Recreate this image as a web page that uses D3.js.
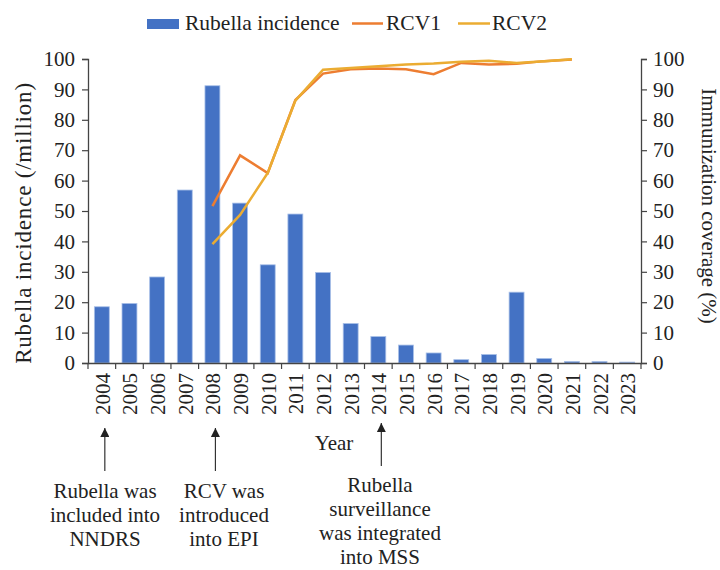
<!DOCTYPE html>
<html>
<head>
<meta charset="utf-8">
<script src="https://cdn.jsdelivr.net/npm/d3@7"></script>
<style>
  body { margin: 0; background: #fff; }
  svg text { font-family: "Liberation Serif", "Times New Roman", serif; fill: #222; }
</style>
</head>
<body>
<div id="chart"></div>
<script>
// Data
var years = ["2004", "2005", "2006", "2007", "2008", "2009", "2010", "2011", "2012", "2013",
             "2014", "2015", "2016", "2017", "2018", "2019", "2020", "2021", "2022", "2023"];
var incidence = [18.5, 19.6, 28.3, 56.9, 91.2, 52.6, 32.3, 49.0, 29.8, 13.0,
                 8.7, 5.9, 3.3, 1.1, 2.8, 23.3, 1.5, 0.5, 0.5, 0.3];
var rcv1Years = ["2008", "2009", "2010", "2011", "2012", "2013", "2014", "2015", "2016", "2017", "2018", "2019", "2020", "2021"];
var rcv1 = [51.6, 68.3, 62.5, 86.5, 95.2, 96.6, 96.9, 96.6, 95.0, 98.7, 98.2, 98.4, 99.3, 99.8];
var rcv2 = [39.1, 48.7, 62.5, 86.3, 96.5, 97.0, 97.6, 98.2, 98.5, 99.1, 99.4, 98.7, 99.3, 99.9];
var leftTicks = [0, 10, 20, 30, 40, 50, 60, 70, 80, 90, 100];
var rightTicks = [0, 10, 20, 30, 40, 50, 60, 70, 80, 90, 100];
var notes = [
    {year: "2004", lines: ["Rubella was", "included into", "NNDRS"]},
    {year: "2008", lines: ["RCV was", "introduced", "into EPI"]},
    {year: "2014", lines: ["Rubella", "surveillance", "was integrated", "into MSS"]}
];

var width = 720, height = 570;
var margin = {top: 59, left: 88, right: 79, bottom: 207};
var axisColor = "#444";
var fs = "21px";

var svg = d3.select("#chart").append("svg")
    .attr("width", width)
    .attr("height", height);

var x = d3.scaleBand()
    .domain(years)
    .range([margin.left, width - margin.right])
    .paddingInner(0.46)
    .paddingOuter(0.23);

var xOuter = d3.scaleBand()
    .domain(years)
    .range([margin.left, width - margin.right]);

var yLeft = d3.scaleLinear().domain([0, 100]).range([height - margin.bottom, margin.top]);
var yRight = d3.scaleLinear().domain([0, 100]).range([height - margin.bottom, margin.top]);

// bars
svg.append("g").selectAll("rect")
    .data(incidence)
    .join("rect")
    .attr("x", function(d, i) { return x(years[i]); })
    .attr("y", function(d) { return yLeft(d); })
    .attr("width", x.bandwidth())
    .attr("height", function(d) { return yLeft(0) - yLeft(d); })
    .attr("fill", "#4472C4")
    .attr("stroke", "#A9C0E8")
    .attr("stroke-width", 0.8);

// lines
var cx = function(yr) { return xOuter(yr) + xOuter.bandwidth() / 2; };
var line = d3.line()
    .x(function(d, i) { return cx(rcv1Years[i]); })
    .y(function(d) { return yRight(d); });

svg.append("path")
    .datum(rcv1)
    .attr("d", line)
    .attr("fill", "none")
    .attr("stroke", "#ED7D31")
    .attr("stroke-width", 2.5);

svg.append("path")
    .datum(rcv2)
    .attr("d", line)
    .attr("fill", "none")
    .attr("stroke", "#EBAC32")
    .attr("stroke-width", 2.5);

// axes
var gx = svg.append("g")
    .attr("transform", "translate(0," + yLeft(0) + ")")
    .call(d3.axisBottom(xOuter).tickSize(0).tickFormat(""));
gx.selectAll(".domain").attr("stroke", axisColor).attr("stroke-width", 1.3);

// x ticks at band edges
svg.append("g").selectAll("line")
    .data(years.concat(["end"]))
    .join("line")
    .attr("x1", function(d, i) { return margin.left + i * xOuter.step(); })
    .attr("x2", function(d, i) { return margin.left + i * xOuter.step(); })
    .attr("y1", yLeft(0))
    .attr("y2", yLeft(0) + 6)
    .attr("stroke", axisColor)
    .attr("stroke-width", 1.2);

svg.append("g").selectAll("text")
    .data(years)
    .join("text")
    .attr("transform", function(d) { return "translate(" + (cx(d) + 8) + "," + (yLeft(0) + 10) + ") rotate(-90)"; })
    .attr("text-anchor", "end")
    .style("font-size", fs)
    .text(function(d) { return d; });

var gl = svg.append("g")
    .attr("transform", "translate(" + margin.left + ",0)")
    .call(d3.axisLeft(yLeft).tickValues(leftTicks).tickSize(6).tickPadding(7).tickSizeOuter(6));
gl.selectAll(".domain").attr("stroke", axisColor).attr("stroke-width", 1.3);
gl.selectAll(".tick line").attr("stroke", axisColor).attr("stroke-width", 1.2);
gl.selectAll("text").style("font-size", fs).style("font-family", "Liberation Serif").attr("fill", "#222");

var gr = svg.append("g")
    .attr("transform", "translate(" + (width - margin.right) + ",0)")
    .call(d3.axisRight(yRight).tickValues(rightTicks).tickSize(6).tickPadding(6).tickSizeOuter(6));
gr.selectAll(".domain").attr("stroke", axisColor).attr("stroke-width", 1.3);
gr.selectAll(".tick line").attr("stroke", axisColor).attr("stroke-width", 1.2);
gr.selectAll("text").style("font-size", fs).style("font-family", "Liberation Serif").attr("fill", "#222");

// axis titles
svg.append("text")
    .attr("transform", "translate(23,223) rotate(-90)")
    .attr("text-anchor", "middle")
    .attr("dy", "0.35em")
    .style("font-size", "23px")
    .style("letter-spacing", "0.8px")
    .text("Rubella incidence (/million)");

svg.append("text")
    .attr("transform", "translate(709," + ((margin.top + yLeft(0)) / 2 - 5) + ") rotate(90)")
    .attr("text-anchor", "middle")
    .attr("dy", "0.35em")
    .style("font-size", "21px")
    .text("Immunization coverage (%)");

svg.append("text")
    .attr("x", 334)
    .attr("y", 450)
    .attr("text-anchor", "middle")
    .style("font-size", fs)
    .text("Year");

// annotations
svg.append("defs").append("marker")
    .attr("id", "arrow")
    .attr("viewBox", "0 0 10 10")
    .attr("refX", 10).attr("refY", 5)
    .attr("markerWidth", 11).attr("markerHeight", 9)
    .attr("markerUnits", "userSpaceOnUse")
    .attr("orient", "auto")
    .append("path")
    .attr("d", "M0,0 L10,5 L0,10 Z")
    .attr("fill", "#222");

var noteG = svg.append("g").selectAll("g")
    .data(notes)
    .join("g");

noteG.append("line")
    .attr("x1", function(d) { return cx(d.year) + 3; })
    .attr("x2", function(d) { return cx(d.year) + 3; })
    .attr("y1", function(d, i) { return i == 2 ? 466 : 471; })
    .attr("y2", function(d, i) { return i == 2 ? 423 : 428; })
    .attr("stroke", "#333")
    .attr("stroke-width", 1.2)
    .attr("marker-end", "url(#arrow)");

noteG.each(function(d, i) {
    var g = d3.select(this);
    var centers = [105, 224, 380];
    var startY = i == 2 ? 492 : 498;
    d.lines.forEach(function(t, j) {
        g.append("text")
            .attr("x", centers[i])
            .attr("y", startY + j * 24)
            .attr("text-anchor", "middle")
            .style("font-size", fs)
            .text(t);
    });
});

// legend
var legend = svg.append("g");
legend.append("rect")
    .attr("x", 147).attr("y", 19).attr("width", 32).attr("height", 10)
    .attr("fill", "#4472C4");
legend.append("text").attr("x", 185).attr("y", 30).style("font-size", "21.5px").text("Rubella incidence");
legend.append("line")
    .attr("x1", 352).attr("x2", 383).attr("y1", 23.5).attr("y2", 23.5)
    .attr("stroke", "#ED7D31").attr("stroke-width", 2.5);
legend.append("text").attr("x", 386).attr("y", 30).style("font-size", "21.5px").text("RCV1");
legend.append("line")
    .attr("x1", 458).attr("x2", 490).attr("y1", 23.5).attr("y2", 23.5)
    .attr("stroke", "#EBAC32").attr("stroke-width", 2.5);
legend.append("text").attr("x", 492).attr("y", 30).style("font-size", "21.5px").text("RCV2");
</script>
</body>
</html>
